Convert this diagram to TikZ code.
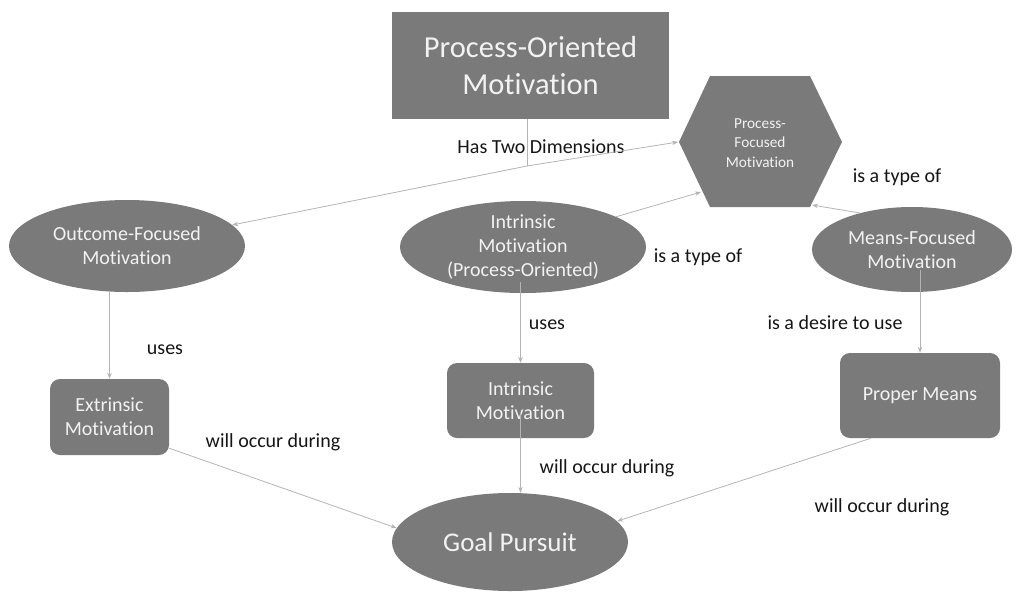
\documentclass[tikz,border=0pt]{standalone}
\usepackage{fontspec}
\setmainfont{Carlito}[Ligatures=NoCommon]
\usetikzlibrary{shapes.geometric,arrows.meta}
\definecolor{nodefill}{HTML}{7A7A7A}
\definecolor{nodetext}{HTML}{F2F2F2}
\definecolor{linkcol}{HTML}{B4B4B4}
\definecolor{labcol}{HTML}{151515}
\tikzset{
  base/.style={fill=nodefill,draw=none,text=nodetext,align=center,inner sep=0pt},
  ell/.style={base,ellipse,font=\fontsize{20}{24}\selectfont},
  rbox/.style={base,rectangle,rounded corners=10pt,font=\fontsize{20}{24}\selectfont},
  lab/.style={text=labcol,font=\fontsize{20}{22}\selectfont,inner sep=0pt},
  link/.style={draw=linkcol,line width=0.8pt},
  arr/.style={link,-{Stealth[length=6pt,width=4.5pt]}}
}
\begin{document}
\begin{tikzpicture}[x=1pt,y=-1pt]
\useasboundingbox (0,0) rectangle (1016,592);
% nodes
\node[base,rectangle,minimum width=277pt,minimum height=107pt,font=\fontsize{30.5}{37}\selectfont] (top) at (530.5,65.5) {Process-Oriented\\Motivation};
\fill[nodefill] (679,142) -- (710,76) -- (810,76) -- (842,142) -- (810,207) -- (710,207) -- cycle;
\node[text=nodetext,align=center,inner sep=0pt,font=\fontsize{15.3}{19.5}\selectfont] (hex) at (760,143) {Process-\\Focused\\Motivation};
\coordinate (hexW) at (678,142);
\coordinate (hexSW) at (701,192);
\coordinate (hexSE) at (812,205);
\node[ell,minimum width=236pt,minimum height=92pt] (outcome) at (127,246) {Outcome-Focused\\Motivation};
\node[ell,minimum width=246pt,minimum height=92pt] (intr) at (523,247) {Intrinsic\\Motivation\\(Process-Oriented)};
\node[ell,minimum width=200pt,minimum height=85pt] (means) at (912,249.5) {Means-Focused\\Motivation};
\node[rbox,minimum width=119pt,minimum height=76pt] (ext) at (109.5,417) {Extrinsic\\Motivation};
\node[rbox,minimum width=147pt,minimum height=75pt] (irect) at (520.5,400.5) {Intrinsic\\Motivation};
\node[rbox,minimum width=160pt,minimum height=85pt] (proper) at (920,395.5) {Proper Means};
\node[base,ellipse,minimum width=236pt,minimum height=98pt,font=\fontsize{27}{30}\selectfont] (goal) at (510,542) {Goal Pursuit};
% labels
\node[lab] (l1) at (541,147) {Has Two Dimensions};
\node[lab] (l2) at (897,177) {is a type of};
\node[lab] (l3) at (698,257) {is a type of};
\node[lab] (l4) at (165,350) {uses};
\node[lab] (l5) at (547,325) {uses};
\node[lab] (l6) at (835,323) {is a desire to use};
\node[lab] (l7) at (273,442) {will occur during};
\node[lab] (l8) at (607,468) {will occur during};
\node[lab] (l9) at (882,507) {will occur during};
% connectors
\coordinate (jn) at (527,166);
\draw[link] (top.south -| jn) -- (jn);
\draw[arr] (jn) -- (outcome);
\draw[arr] (jn) -- (hexW);
\draw[arr] (intr.18) -- (hexSW);
\draw[arr] (means.145) -- (hexSE);
\draw[arr] (ext.north |- outcome.south) -- (ext.north);
\draw[arr] ([yshift=11pt]irect.north |- intr.south) -- (irect.north);
\draw[arr] ([yshift=22pt]proper.north |- means.south) -- (proper.north);
\draw[arr] ([yshift=7pt]ext.south east) -- (goal.173);
\draw[arr] ([yshift=25pt]irect.south) -- (irect.south |- goal.north);
\draw[arr] ([xshift=-49pt]proper.south) -- (goal.11);
\end{tikzpicture}
\end{document}
